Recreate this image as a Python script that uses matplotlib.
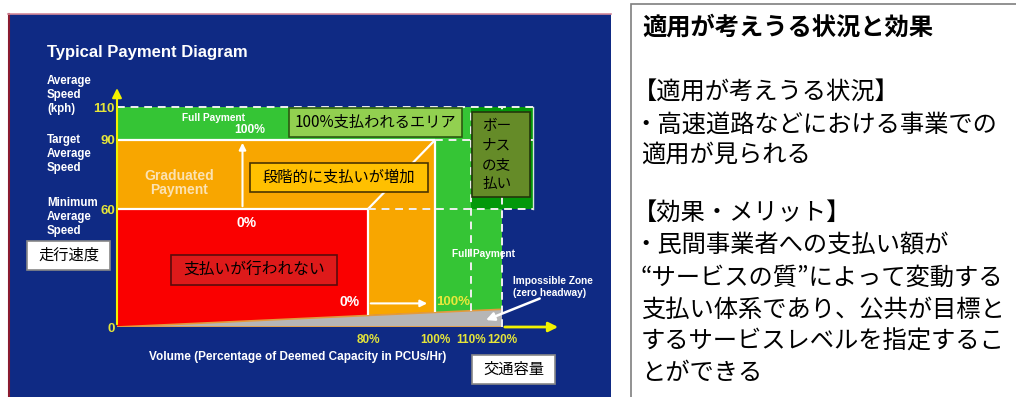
import numpy as np
import matplotlib
matplotlib.use('Agg')
import matplotlib.pyplot as plt
from matplotlib.patches import Rectangle

W, H = 1016, 397

# payment thresholds
speed_ticks = [0, 60, 90, 110]
speed_labels = ['0', '60', '90', '110']
volume_ticks = [80, 100, 110, 120]
volume_labels = ['80%', '100%', '110%', '120%']
min_speed, target_speed, max_speed = 60, 90, 110
grad_start, full_start, bonus_start, zero_headway = 80, 100, 110, 120
bonus_end = 130
impossible_top = 9   # kph reached by the impossible zone at 120%

# speed axis on the slide is not even: the 60-90 band is stretched
y_knots = [0, 60, 90, 110, 140]
y_span = [0, 118, 187, 220, 270]
x_knots = [0, 80, 100, 110, 120, 150]
x_span = [0, 251, 318, 354, 385, 478]

NAVY = '#0f2a84'
RED = '#fa0000'
ORANGE = '#f8a600'
GREEN = '#35c535'
DKGREEN = '#03980a'
GRAY = '#b6b6b6'
YELLOW = '#e4e43a'
JP = ['Noto Sans CJK JP', 'DejaVu Sans']

plt.rcParams['font.family'] = ['Liberation Sans', 'Noto Sans CJK JP', 'DejaVu Sans']


def at(px, py):
    return px / W, 1 - py / H


def floor(v):
    # top edge of the impossible (zero headway) wedge
    return impossible_top * np.asarray(v, dtype=float) / zero_headway


fig = plt.figure(figsize=(W / 100, H / 100), dpi=100)
fig.patch.set_facecolor('white')

# slide background
fig.add_artist(Rectangle(at(8, 397), 603 / W, 383 / H, transform=fig.transFigure,
                         fc=NAVY, ec='none', zorder=-2))
fig.add_artist(plt.Line2D([8.5 / W, 8.5 / W], [0, 1 - 14 / H], transform=fig.transFigure,
                          color='#8a1b30', lw=1.5, zorder=-1))
fig.add_artist(plt.Line2D([8 / W, 611 / W], [1 - 14 / H, 1 - 14 / H], transform=fig.transFigure,
                          color='#d48a9a', lw=1.2, zorder=-1))
# text panel on the right
fig.add_artist(Rectangle(at(631, 420), 400 / W, 416 / H, transform=fig.transFigure,
                         fc='white', ec='#7f7f7f', lw=1.2, zorder=-1))

ax = fig.add_axes([117 / W, 70 / H, 447 / W, 245 / H])
ax.set_facecolor('none')
ax.set_xscale('function', functions=(lambda v: np.interp(v, x_knots, x_span),
                                     lambda v: np.interp(v, x_span, x_knots)))
ax.set_yscale('function', functions=(lambda v: np.interp(v, y_knots, y_span),
                                     lambda v: np.interp(v, y_span, y_knots)))
ax.set_xlim(0, 140)
ax.set_ylim(0, 125)
for s in ax.spines.values():
    s.set_visible(False)

# payment zones
ax.fill([0, zero_headway, zero_headway], [0, 0, floor(zero_headway)], color=GRAY, lw=0, zorder=1)
ax.fill([0, grad_start, grad_start, 0], [0, floor(grad_start), min_speed, min_speed],
        color=RED, lw=0, zorder=1)
ax.fill([0, grad_start, grad_start, full_start, full_start, 0],
        [min_speed, min_speed, floor(grad_start), floor(full_start), target_speed, target_speed],
        color=ORANGE, lw=0, zorder=1)
ax.fill([0, full_start, full_start, zero_headway, zero_headway, bonus_start, bonus_start, 0],
        [target_speed, target_speed, floor(full_start), floor(zero_headway), min_speed, min_speed,
         max_speed, max_speed], color=GREEN, lw=0, zorder=1)
ax.fill([bonus_start, bonus_end, bonus_end, bonus_start], [min_speed, min_speed, max_speed, max_speed],
        color=DKGREEN, lw=0, zorder=1)

# wedge outline
ax.plot([0, zero_headway], [0, floor(zero_headway)], color='#e39a3c', lw=1.2, zorder=2)
ax.plot([0, zero_headway], [0, 0], color='#e39a3c', lw=1.2, zorder=2)

# boundaries
solid = dict(color='white', lw=1.6, zorder=2, solid_capstyle='butt')
dash = dict(color='#f0f0f0', lw=1.4, zorder=2, ls=(0, (4, 3)))
ax.plot([0, grad_start], [min_speed, min_speed], **solid)
ax.plot([0, full_start], [target_speed, target_speed], **solid)
ax.plot([grad_start, grad_start], [floor(grad_start), min_speed], **solid)
ax.plot([full_start, full_start], [floor(full_start), target_speed], **solid)
ax.plot([grad_start, full_start], [min_speed, target_speed], **solid)
ax.plot([0, bonus_end], [max_speed, max_speed], **dash)
ax.plot([full_start, bonus_end], [target_speed, target_speed], **dash)
ax.plot([grad_start, bonus_end], [min_speed, min_speed], **dash)
ax.plot([bonus_start, bonus_start], [floor(bonus_start), max_speed], **dash)
ax.plot([zero_headway, zero_headway], [0, max_speed], **dash)
ax.plot([bonus_end, bonus_end], [min_speed, max_speed], color='#d8e8d8', lw=1.0, zorder=2)

# axes arrows
ax.annotate('', xy=(0, 123), xytext=(0, 0), annotation_clip=False,
            arrowprops=dict(arrowstyle='-|>', color='#f2f200', lw=1.5, mutation_scale=14))
ax.annotate('', xy=(139, 0), xytext=(zero_headway, 0), annotation_clip=False,
            arrowprops=dict(arrowstyle='-|>', color='#f2f200', lw=2, mutation_scale=14))

# payment ramp arrows
ax.annotate('', xy=(40, target_speed), xytext=(40, min_speed),
            arrowprops=dict(arrowstyle='-|>', color='white', lw=1.5, mutation_scale=10))
ax.annotate('', xy=(98.5, 12), xytext=(grad_start, 12),
            arrowprops=dict(arrowstyle='-|>', color='white', lw=1.5, mutation_scale=10))
ax.annotate('', xy=(114, 3), xytext=(133, 15), annotation_clip=False,
            arrowprops=dict(arrowstyle='-|>', color='white', lw=1.8, mutation_scale=12))

ax.set_yticks(speed_ticks, speed_labels)
ax.set_xticks(volume_ticks, volume_labels)
ax.minorticks_off()
ax.tick_params(axis='y', length=0, pad=1.5, labelcolor=YELLOW, labelsize=9.5)
ax.tick_params(axis='x', length=0, pad=5, labelcolor=YELLOW, labelsize=8.5)
for lab in ax.get_xticklabels() + ax.get_yticklabels():
    lab.set_fontweight('bold')

# slide texts
bold = dict(color='white', fontweight='bold')
fig.text(*at(47, 52), 'Typical Payment Diagram', fontsize=12, va='center', **bold)
for yy, txt in [(95, 'Average\nSpeed\n(kph)'), (154, 'Target\nAverage\nSpeed'),
                (217, 'Minimum\nAverage\nSpeed')]:
    fig.text(*at(47, yy), txt, fontsize=8.3, va='center', linespacing=1.2, **bold)
fig.text(*at(213, 118), 'Full Payment', fontsize=7.3, ha='center', va='center', **bold)
fig.text(*at(250, 130), '100%', fontsize=8.7, ha='center', va='center', **bold)
fig.text(*at(179, 183), 'Graduated\nPayment', fontsize=10, ha='center', va='center',
         color='#fbe2b2', fontweight='bold', linespacing=1.0)
fig.text(*at(247, 223), '0%', fontsize=10, ha='center', va='center', **bold)
fig.text(*at(350, 302), '0%', fontsize=10, ha='center', va='center', **bold)
fig.text(*at(453, 302), '100%', fontsize=9.5, ha='center', va='center', color='#e8e83c',
         fontweight='bold')
fig.text(*at(483, 254), 'Full Payment', fontsize=7.3, ha='center', va='center', **bold)
fig.text(*at(513, 287), 'Impossible Zone\n(zero headway)', fontsize=7.3, va='center',
         linespacing=1.35, **bold)
fig.text(*at(298, 357), 'Volume (Percentage of Deemed Capacity in PCUs/Hr)', fontsize=8.5,
         ha='center', va='center', **bold)


def label_box(x0, y0, x1, y1, fc, ec, text, size):
    fig.add_artist(Rectangle(at(x0, y1), (x1 - x0) / W, (y1 - y0) / H, transform=fig.transFigure,
                             fc=fc, ec=ec, lw=1.2, zorder=2.5))
    fig.text(*at((x0 + x1) / 2, (y0 + y1) / 2), text, fontsize=size, ha='center', va='center',
             family=JP, color='black', zorder=3)


label_box(27, 241, 110, 270, 'white', '#888888', '走行速度', 11)
label_box(472, 355, 555, 384, 'white', '#888888', '交通容量', 11)
label_box(171, 255, 337, 285, '#de1a1a', '#5a0c0c', '支払いが行われない', 11.3)
label_box(250, 163, 428, 192, '#ffc000', '#4a3400', '段階的に支払いが増加', 11)
label_box(289, 108, 462, 137, '#92d050', '#2c5a12', '100%支払われるエリア', 11)

fig.add_artist(Rectangle(at(472, 197), 58 / W, 85 / H, transform=fig.transFigure,
                         fc='#658b28', ec='#24360c', lw=1.2, zorder=2.5))
fig.text(*at(482, 155), 'ボー\nナス\nの支\n払い', fontsize=10.5, va='center', ha='left',
         family=JP, linespacing=1.5, zorder=3)

# right panel
fig.text(*at(642, 28), '適用が考えうる状況と効果', fontsize=17.5, va='center', family=JP,
         fontweight='bold')
panel_lines = ['【適用が考えうる状況】', '・高速道路などにおける事業での', '適用が見られる',
               '【効果・メリット】', '・民間事業者への支払い額が', '“サービスの質”によって変動する',
               '支払い体系であり、公共が目標と', 'するサービスレベルを指定するこ', 'とができる']
panel_y = [93, 125, 155, 213, 246, 278, 310, 342, 373]
for yy, txt in zip(panel_y, panel_lines):
    x0 = 633 if txt[0] in '【・' else 641
    fig.text(*at(x0, yy), txt, fontsize=17.5, va='center', family=JP)

fig.savefig('out.png', dpi=100)
